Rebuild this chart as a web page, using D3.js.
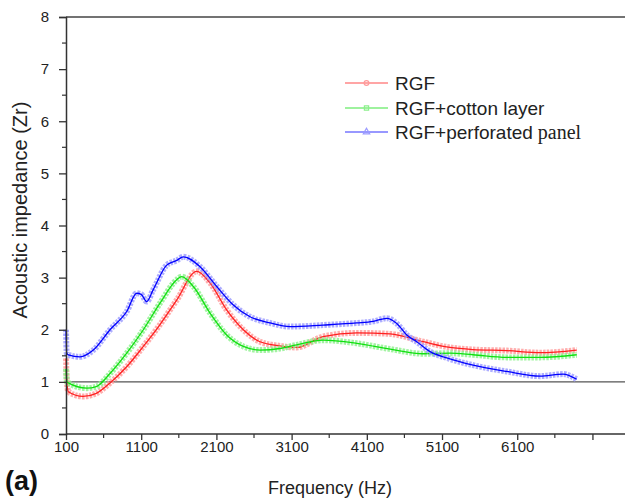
<!DOCTYPE html>
<html>
<head>
<meta charset="utf-8">
<script src="https://cdn.jsdelivr.net/npm/d3@7"></script>
<style>
  body { margin: 0; background: white; }
  svg { display: block; font-family: "Liberation Sans", Arial, sans-serif; }
</style>
</head>
<body>
<svg></svg>
<script>
const w = 625;
const h = 502;

// values: [frequency (Hz), Zr]
const rgf = [[100,1.45],[112,1.0],[131,0.81],[326,0.72],[503,0.78],[685,0.98],[907,1.29],[1128,1.68],[1350,2.1],[1572,2.57],[1838,3.12],[2015,2.9],[2236,2.38],[2458,2.0],[2680,1.77],[2946,1.69],[3167,1.66],[3518,1.87],[3966,1.94],[4410,1.92],[4853,1.77],[5206,1.66],[5513,1.62],[5961,1.60],[6403,1.56],[6891,1.61]];
const cotton = [[100,1.25],[112,1.0],[131,0.98],[375,0.88],[503,0.91],[685,1.16],[907,1.55],[1128,2.0],[1350,2.51],[1572,2.96],[1638,3.02],[1793,2.83],[2015,2.32],[2236,1.90],[2458,1.68],[2680,1.61],[2946,1.64],[3167,1.71],[3518,1.80],[3966,1.74],[4410,1.63],[4853,1.54],[5206,1.55],[5513,1.52],[5961,1.47],[6403,1.47],[6891,1.52]];
const perforated = [[100,2.0],[110,1.55],[131,1.52],[286,1.48],[463,1.61],[685,2.0],[907,2.35],[1040,2.7],[1100,2.68],[1173,2.54],[1257,2.76],[1439,3.24],[1572,3.33],[1660,3.40],[1882,3.21],[2104,2.83],[2321,2.48],[2547,2.25],[2813,2.13],[3079,2.06],[3518,2.09],[3966,2.13],[4183,2.16],[4365,2.22],[4498,2.12],[4631,1.90],[4764,1.77],[4941,1.58],[5163,1.46],[5513,1.32],[5961,1.20],[6403,1.11],[6709,1.15],[6891,1.05]];

const seriesNames = ["RGF", "RGF+cotton layer", "RGF+perforated"];
const xTicks = [100, 1100, 2100, 3100, 4100, 5100, 6100, 7100];
const xMinor = [600, 1600, 2600, 3600, 4600, 5600, 6600, 7600];
const yTicks = [0, 1, 2, 3, 4, 5, 6, 7, 8];
const yMinor = [0.5, 1.5, 2.5, 3.5, 4.5, 5.5, 6.5, 7.5];

const svg = d3.select("svg").attr("width", w).attr("height", h).attr("viewBox", [0, 0, w, h]);

const x = d3.scaleLinear().domain([100, 7900]).range([66, 652.6]);
const y = d3.scaleLinear().domain([0, 8]).range([434, 17]);

const series = [
    {name: seriesNames[0], data: rgf, line: "#ff2020", halo: "#ff9a9a", marker: "circle"},
    {name: seriesNames[1], data: cotton, line: "#10e010", halo: "#8cf08c", marker: "square"},
    {name: seriesNames[2], data: perforated, line: "#0000ff", halo: "#9a9aff", marker: "triangle"},
];

// frame top line
svg.append("line")
    .attr("x1", 66).attr("x2", w).attr("y1", y(8)).attr("y2", y(8))
    .attr("stroke", "#444").attr("stroke-width", 1.6);

// reference line at Zr = 1
svg.append("line")
    .attr("x1", 66).attr("x2", w).attr("y1", y(1)).attr("y2", y(1))
    .attr("stroke", "#555").attr("stroke-width", 1.2);

const line = d3.line()
    .x(d => x(d[0]))
    .y(d => y(d[1]))
    .curve(d3.curveMonotoneX);

const g = svg.append("g");
series.forEach(s => {
    // band of small open markers
    g.append("path")
        .attr("d", line(s.data))
        .attr("fill", "none")
        .attr("stroke", s.halo)
        .attr("stroke-width", 6)
        .attr("stroke-dasharray", "2.5,1.2")
        .attr("opacity", 0.8);
    g.append("path")
        .attr("d", line(s.data))
        .attr("fill", "none")
        .attr("stroke", s.line)
        .attr("stroke-width", 1.3);
});

// axes
const xAxis = svg.append("g")
    .attr("transform", `translate(0,${y(0)})`)
    .call(d3.axisBottom(x).tickValues(xTicks).tickSize(6).tickPadding(1)
        .tickFormat(d => d > 6100 ? "" : d));
xAxis.select(".domain").attr("d", `M66,0H${w}`).attr("stroke", "#333").attr("stroke-width", 1.5);
xAxis.selectAll(".tick line").attr("stroke", "#333").attr("stroke-width", 1.3);
xAxis.selectAll("text").attr("font-size", 15).attr("fill", "#222")
    .attr("font-family", "Liberation Sans, Arial, sans-serif");
svg.append("g")
    .selectAll("line")
    .data(xMinor)
    .join("line")
    .attr("x1", d => x(d)).attr("x2", d => x(d))
    .attr("y1", y(0)).attr("y2", y(0) + 4)
    .attr("stroke", "#333").attr("stroke-width", 1.2);

const yAxis = svg.append("g")
    .attr("transform", "translate(66,0)")
    .call(d3.axisLeft(y).tickValues(yTicks).tickSize(7).tickPadding(10));
yAxis.select(".domain").attr("stroke", "#333").attr("stroke-width", 1.5);
yAxis.selectAll(".tick line").attr("stroke", "#333").attr("stroke-width", 1.3);
yAxis.selectAll("text").attr("font-size", 15).attr("fill", "#222")
    .attr("font-family", "Liberation Sans, Arial, sans-serif");
svg.append("g")
    .selectAll("line")
    .data(yMinor)
    .join("line")
    .attr("x1", 62).attr("x2", 66)
    .attr("y1", d => y(d)).attr("y2", d => y(d))
    .attr("stroke", "#333").attr("stroke-width", 1.2);

// axis titles
svg.append("text")
    .attr("x", 330).attr("y", 494)
    .attr("text-anchor", "middle")
    .attr("font-size", 18).attr("fill", "#222")
    .text("Frequency (Hz)");

svg.append("text")
    .attr("transform", "translate(27,210) rotate(-90)")
    .attr("text-anchor", "middle")
    .attr("font-size", 20).attr("fill", "#222")
    .text("Acoustic impedance (Zr)");

svg.append("text")
    .attr("x", 5).attr("y", 490)
    .attr("font-size", 27).attr("font-weight", "bold").attr("fill", "#111")
    .text("(a)");

// legend
const legend = svg.append("g");
const rows = [83, 108, 132];
series.forEach((s, i) => {
    const ly = rows[i];
    legend.append("line")
        .attr("x1", 345).attr("x2", 388).attr("y1", ly).attr("y2", ly)
        .attr("stroke", s.line).attr("stroke-width", 1.2).attr("opacity", 0.8);
    const sym = d3.symbol()
        .type(s.marker === "circle" ? d3.symbolCircle : s.marker === "square" ? d3.symbolSquare : d3.symbolTriangle)
        .size(18);
    legend.append("path")
        .attr("d", sym())
        .attr("transform", `translate(366.5,${ly})`)
        .attr("fill", "none")
        .attr("stroke", s.halo).attr("stroke-width", 1.2);
    const t = legend.append("text")
        .attr("x", 395).attr("y", ly + 6.5)
        .attr("font-size", 19).attr("fill", "#222")
        .text(s.name);
    if (i === 2) {
        t.append("tspan")
            .attr("font-family", "Liberation Serif, Times New Roman, serif")
            .attr("font-size", 20)
            .text(" panel");
    }
});
</script>
</body>
</html>
